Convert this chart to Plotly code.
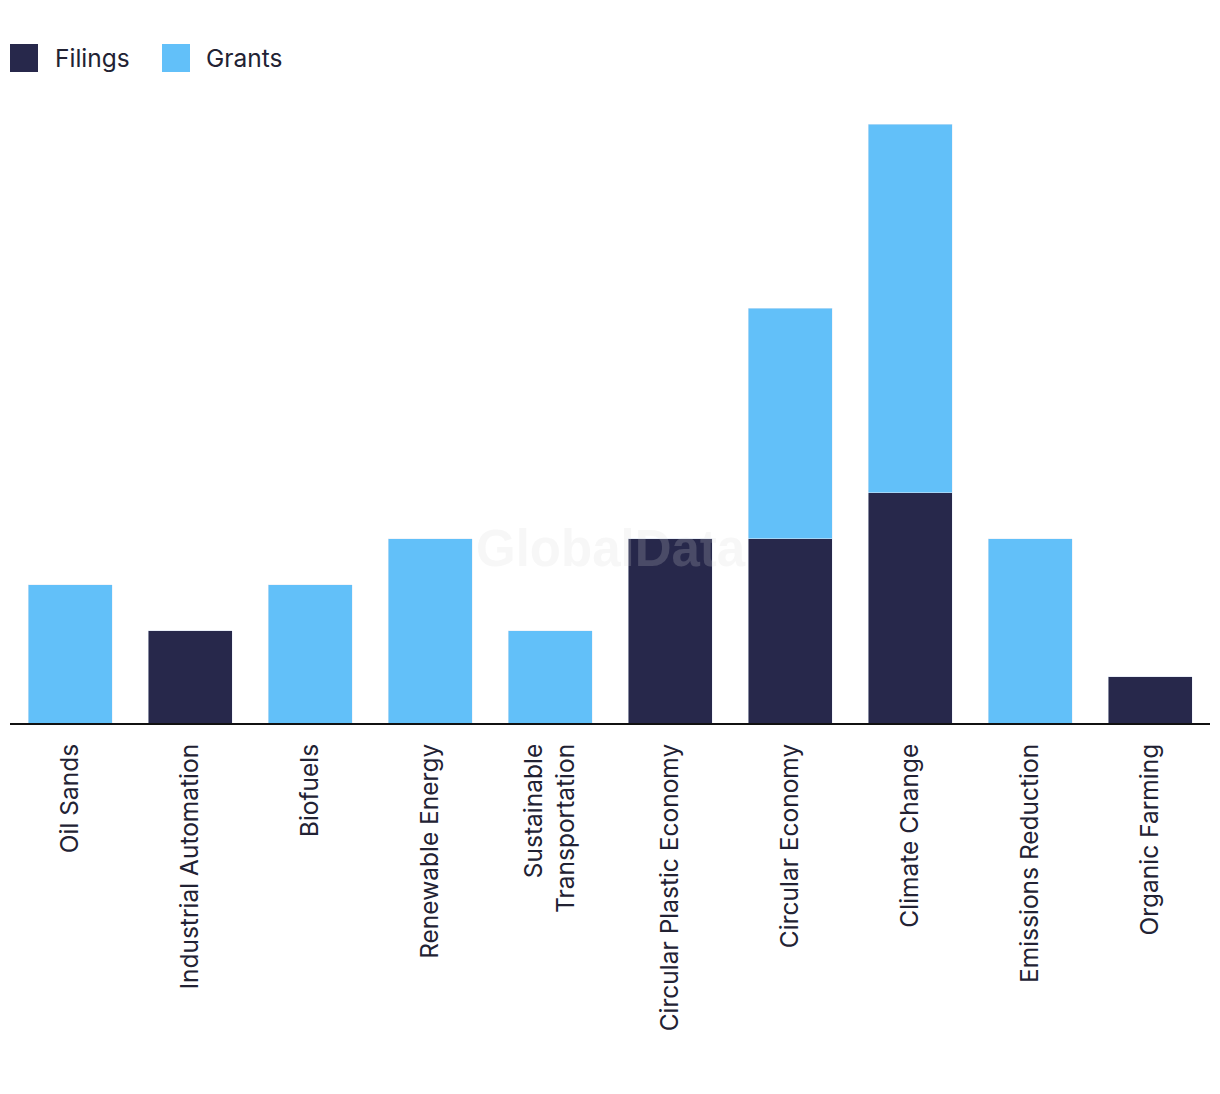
import plotly.graph_objects as go

categories = ["Oil Sands", "Industrial Automation", "Biofuels", "Renewable Energy",
              "Sustainable<br>Transportation", "Circular Plastic Economy", "Circular Economy",
              "Climate Change", "Emissions Reduction", "Organic Farming"]
filings = [0, 2, 0, 0, 0, 4, 4, 5, 0, 1]
grants = [3, 0, 3, 4, 2, 0, 5, 8, 4, 0]

FIL_COL = "#27284b"
GRA_COL = "#62c0f9"
TXT = "#222233"
FONT = "Inter, Roboto, sans-serif"

OFF = 8  # page body offset
W, H = 1220, 1094
L, R, T, B = 10 - OFF, 10 + OFF, 101 - OFF, 371 + OFF
plot_h = H - T - B
plot_w = W - L - R

def px(x):
    return (x - OFF - L) / plot_w

def py(y):
    return (H - B - (y - OFF)) / plot_h

fig = go.Figure()
fig.add_bar(x=categories, y=filings, name="Filings", marker_color=FIL_COL, showlegend=False)
fig.add_bar(x=categories, y=grants, name="Grants", marker_color=GRA_COL, showlegend=False)

shapes = [
    dict(type="rect", xref="paper", yref="paper", x0=px(10), x1=px(38), y0=py(72), y1=py(44),
         fillcolor=FIL_COL, line_width=0),
    dict(type="rect", xref="paper", yref="paper", x0=px(162), x1=px(190), y0=py(72), y1=py(44),
         fillcolor=GRA_COL, line_width=0),
]
annotations = [
    dict(text="Filings", xref="paper", yref="paper", x=px(53), y=py(58), xanchor="left",
         yanchor="middle", showarrow=False, font=dict(size=24.5, color=TXT, family=FONT)),
    dict(text="Grants", xref="paper", yref="paper", x=px(204), y=py(58), xanchor="left",
         yanchor="middle", showarrow=False, font=dict(size=24.5, color=TXT, family=FONT)),
    dict(text="<b>GlobalData</b>", xref="paper", yref="paper", x=px(611), y=py(548),
         xanchor="center", yanchor="middle", showarrow=False,
         font=dict(size=51, color="rgba(215,215,215,0.2)", family="Liberation Sans, Arial, sans-serif")),
]

fig.update_layout(
    width=W, height=H,
    margin=dict(l=L, r=R, t=T, b=B),
    barmode="stack", bargap=0.3,
    plot_bgcolor="white", paper_bgcolor="white",
    font=dict(family=FONT, size=24.5, color=TXT),
    shapes=shapes, annotations=annotations,
    xaxis=dict(tickangle=-90, showline=True, linecolor="#111111", linewidth=2,
               showgrid=False, ticks="", ticklabelstandoff=9,
               tickfont=dict(size=24.5, color=TXT, family=FONT)),
    yaxis=dict(range=[0, 13.5], visible=False, showgrid=False, zeroline=False),
)

fig.write_html("out.html")
